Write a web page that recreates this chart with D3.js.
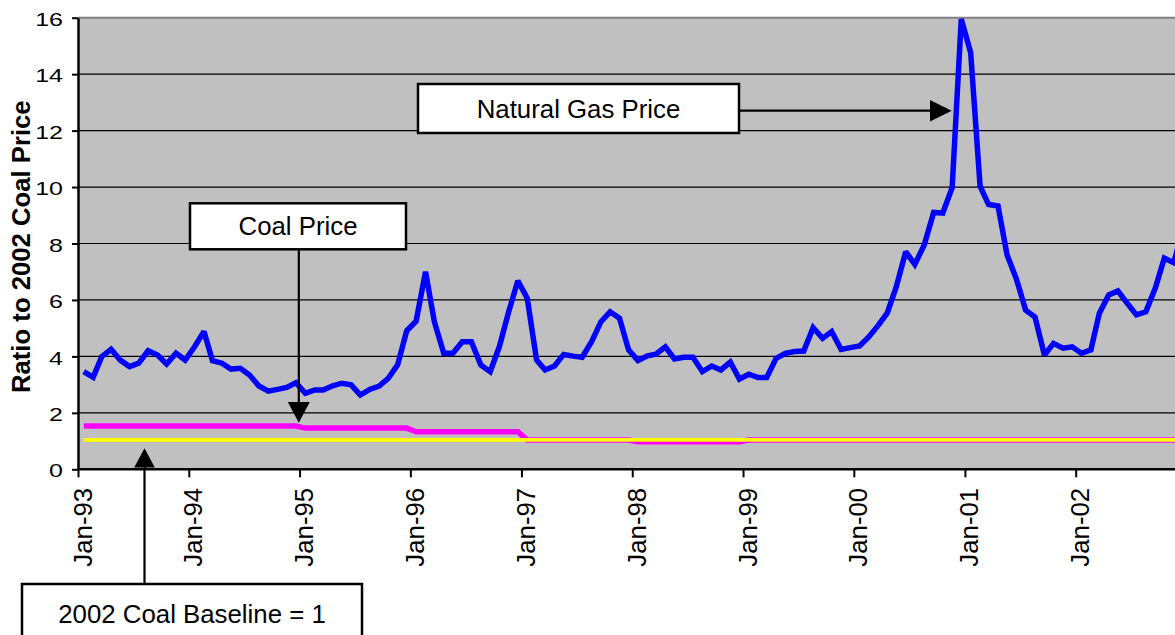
<!DOCTYPE html>
<html><head><meta charset="utf-8">
<script src="https://cdn.jsdelivr.net/npm/d3@7"></script>
<style>
html,body{margin:0;padding:0;background:#fff;}
svg{display:block;font-family:"Liberation Sans",Arial,sans-serif;}
</style>
</head><body>
<svg id="chart" width="1175" height="635"></svg>
<script>
// ---------------- DATA ----------------
const firstMonth = "1993-01";
const lastMonth = "2002-12";
// Natural gas price, ratio to 2002 coal price (monthly, Jan-93 .. Dec-02)
const gasPrice = [
  3.46,3.26,3.99,4.25,3.87,3.64,3.76,4.20,4.05,3.73,4.11,3.87,
  4.34,4.88,3.85,3.76,3.55,3.58,3.34,2.95,2.77,2.83,2.90,3.07,
  2.69,2.81,2.81,2.96,3.05,2.99,2.63,2.83,2.95,3.22,3.70,4.91,
  5.25,7.00,5.23,4.11,4.11,4.52,4.52,3.70,3.46,4.34,5.58,6.68,
  6.06,3.87,3.52,3.66,4.07,4.01,3.97,4.52,5.23,5.58,5.35,4.23,
  3.85,4.02,4.08,4.34,3.91,3.97,3.97,3.46,3.66,3.52,3.80,3.20,
  3.37,3.25,3.25,3.93,4.11,4.17,4.19,5.02,4.64,4.88,4.25,4.31,
  4.37,4.70,5.08,5.53,6.47,7.71,7.26,7.95,9.10,9.08,9.98,15.95,
  14.76,10.03,9.38,9.33,7.59,6.73,5.64,5.39,4.05,4.46,4.29,4.34,
  4.11,4.23,5.53,6.18,6.32,5.88,5.47,5.58,6.41,7.48,7.32,8.50
];
// Coal price, ratio to 2002 coal price (monthly)
const coalPrice = [
  1.53,1.53,1.53,1.53,1.53,1.53,1.53,1.53,1.53,1.53,1.53,1.53,
  1.53,1.53,1.53,1.53,1.53,1.53,1.53,1.53,1.53,1.53,1.53,1.53,
  1.46,1.46,1.46,1.46,1.46,1.46,1.46,1.46,1.46,1.46,1.46,1.46,
  1.33,1.33,1.33,1.33,1.33,1.33,1.33,1.33,1.33,1.33,1.33,1.33,
  1.04,1.04,1.04,1.04,1.04,1.04,1.04,1.04,1.04,1.04,1.04,1.04,
  0.98,0.98,0.98,0.98,0.98,0.98,0.98,0.98,0.98,0.98,0.98,0.98,
  1.04,1.04,1.04,1.04,1.04,1.04,1.04,1.04,1.04,1.04,1.04,1.04,
  1.04,1.04,1.04,1.04,1.04,1.04,1.04,1.04,1.04,1.04,1.04,1.04,
  1.04,1.04,1.04,1.04,1.04,1.04,1.04,1.04,1.04,1.04,1.04,1.04,
  1.04,1.04,1.04,1.04,1.04,1.04,1.04,1.04,1.04,1.04,1.04,1.04
];
// 2002 coal baseline (= 1)
const coalBaseline = [
  1.04,1.04,1.04,1.04,1.04,1.04,1.04,1.04,1.04,1.04,1.04,1.04,
  1.04,1.04,1.04,1.04,1.04,1.04,1.04,1.04,1.04,1.04,1.04,1.04,
  1.04,1.04,1.04,1.04,1.04,1.04,1.04,1.04,1.04,1.04,1.04,1.04,
  1.04,1.04,1.04,1.04,1.04,1.04,1.04,1.04,1.04,1.04,1.04,1.04,
  1.04,1.04,1.04,1.04,1.04,1.04,1.04,1.04,1.04,1.04,1.04,1.04,
  1.04,1.04,1.04,1.04,1.04,1.04,1.04,1.04,1.04,1.04,1.04,1.04,
  1.04,1.04,1.04,1.04,1.04,1.04,1.04,1.04,1.04,1.04,1.04,1.04,
  1.04,1.04,1.04,1.04,1.04,1.04,1.04,1.04,1.04,1.04,1.04,1.04,
  1.04,1.04,1.04,1.04,1.04,1.04,1.04,1.04,1.04,1.04,1.04,1.04,
  1.04,1.04,1.04,1.04,1.04,1.04,1.04,1.04,1.04,1.04,1.04,1.04
];
const xTickLabels = ["Jan-93","Jan-94","Jan-95","Jan-96","Jan-97","Jan-98","Jan-99","Jan-00","Jan-01","Jan-02"];
const yTicks = [0,2,4,6,8,10,12,14,16];
const yTitle = "Ratio to 2002 Coal Price";
const notes = ["Natural Gas Price","Coal Price","2002 Coal Baseline = 1"];

// ---------------- LAYOUT ----------------
const W = 1175, H = 635;
const plotLeft = 78, plotTop = 17.7, plotBottom = 469.3;
const parseMonth = d3.utcParse("%Y-%m");
const monthStarts = d3.utcMonth.range(parseMonth(firstMonth), d3.utcMonth.offset(parseMonth(lastMonth), 1));
const pointDates = monthStarts.map(d => d3.utcDay.offset(d, 19));
const yearTicks = d3.utcYear.range(parseMonth(firstMonth), parseMonth("2002-02"));

const x = d3.scaleUtc()
  .domain([parseMonth("1993-01"), parseMonth("2002-01")])
  .range([plotLeft, 1075.7]);
const y = d3.scaleLinear().domain([0, 16]).range([plotBottom, plotTop]);
const plotRight = x(parseMonth("2003-01"));

const svg = d3.select("#chart");
svg.append("rect").attr("width", W).attr("height", H).attr("fill", "#fff");

// plot background
svg.append("rect")
  .attr("x", plotLeft).attr("y", plotTop)
  .attr("width", plotRight - plotLeft).attr("height", plotBottom - plotTop)
  .attr("fill", "#C0C0C0");

// gridlines
svg.append("g").selectAll("line")
  .data(yTicks.filter(v => v > 0 && v < 16))
  .join("line")
  .attr("x1", plotLeft).attr("x2", plotRight)
  .attr("y1", d => y(d)).attr("y2", d => y(d))
  .attr("stroke", "#000").attr("stroke-width", 1.2);

// top border
svg.append("line")
  .attr("x1", plotLeft).attr("x2", plotRight)
  .attr("y1", plotTop).attr("y2", plotTop)
  .attr("stroke", "#808080").attr("stroke-width", 2);

// clip
svg.append("clipPath").attr("id", "plotClip")
  .append("rect")
  .attr("x", plotLeft).attr("y", plotTop)
  .attr("width", plotRight - plotLeft).attr("height", plotBottom - plotTop);

const line = d3.line().x((d, i) => x(pointDates[i])).y(d => y(d));
const lines = svg.append("g").attr("clip-path", "url(#plotClip)");
lines.append("path").attr("d", line(gasPrice))
  .attr("fill", "none").attr("stroke", "#0000FF").attr("stroke-width", 5.5)
  .attr("stroke-linejoin", "miter").attr("stroke-miterlimit", 2);
lines.append("path").attr("d", line(coalPrice))
  .attr("fill", "none").attr("stroke", "#FF00FF").attr("stroke-width", 5.5);
lines.append("path").attr("d", line(coalBaseline))
  .attr("fill", "none").attr("stroke", "#FFFF00").attr("stroke-width", 3.8);

// Y axis
const yAxis = svg.append("g").attr("transform", `translate(${plotLeft},0)`)
  .call(d3.axisLeft(y).tickValues(yTicks).tickSize(6).tickSizeOuter(0));
yAxis.select(".domain").attr("stroke", "#000").attr("stroke-width", 2.5);
yAxis.selectAll(".tick line").attr("stroke", "#000").attr("stroke-width", 2);
yAxis.selectAll(".tick text")
  .attr("x", null).attr("dy", null)
  .attr("text-anchor", "end")
  .attr("transform", "translate(-15,7.6) scale(1,0.75)")
  .attr("font-size", 25).attr("fill", "#000")
  .attr("font-family", '"Liberation Sans",Arial,sans-serif');

// X axis
const xAxis = svg.append("g").attr("transform", `translate(0,${plotBottom})`)
  .call(d3.axisBottom(x).tickValues(yearTicks).tickSize(8).tickSizeOuter(0)
    .tickFormat((d, i) => xTickLabels[i]));
xAxis.select(".domain").remove();
xAxis.selectAll(".tick line").attr("stroke", "#000").attr("stroke-width", 2);
xAxis.selectAll(".tick text")
  .attr("y", null).attr("dy", null)
  .attr("text-anchor", "end")
  .attr("transform", "translate(13,18.5) rotate(-90)")
  .attr("font-size", 25.8).attr("fill", "#000")
  .attr("font-family", '"Liberation Sans",Arial,sans-serif');
svg.append("line")
  .attr("x1", plotLeft - 1).attr("x2", plotRight)
  .attr("y1", plotBottom).attr("y2", plotBottom)
  .attr("stroke", "#000").attr("stroke-width", 2.5);

// Y title
svg.append("text")
  .attr("transform", "translate(30,246.7) rotate(-90)")
  .attr("text-anchor", "middle")
  .attr("font-size", 25.7).attr("font-weight", "bold")
  .text(yTitle);

// ---------------- ANNOTATIONS ----------------
const ann = svg.append("g");
function box(bx, by, bw, bh, label, baseline) {
  ann.append("rect").attr("x", bx).attr("y", by).attr("width", bw).attr("height", bh)
    .attr("fill", "#fff").attr("stroke", "#000").attr("stroke-width", 2.5);
  ann.append("text").attr("x", bx + bw / 2).attr("y", baseline)
    .attr("text-anchor", "middle").attr("font-size", 25.8).attr("fill", "#000")
    .text(label);
}
function arrow(x1, y1, x2, y2, headLen, headHalf) {
  const dx = x2 - x1, dy = y2 - y1, L = Math.hypot(dx, dy);
  const ux = dx / L, uy = dy / L;
  const bx = x2 - ux * headLen, by = y2 - uy * headLen;
  ann.append("line").attr("x1", x1).attr("y1", y1).attr("x2", bx + ux).attr("y2", by + uy)
    .attr("stroke", "#000").attr("stroke-width", 2.2);
  ann.append("polygon")
    .attr("points", [[x2, y2], [bx - uy * headHalf, by + ux * headHalf], [bx + uy * headHalf, by - ux * headHalf]].map(p => p.join(",")).join(" "))
    .attr("fill", "#000");
}
// Natural gas
arrow(739, 110.7, 951.7, 110.7, 21.7, 10.8);
box(418, 84, 321, 49, notes[0], 117.5);
// Coal price
arrow(298.8, 249.3, 298.8, 422.7, 20.7, 11);
box(190, 203.3, 216, 46, notes[1], 235);
// Baseline
arrow(144.5, 584, 144.5, 448.3, 19.2, 10.3);
box(22, 584, 340, 62, notes[2], 622.5);
</script>
</body></html>
